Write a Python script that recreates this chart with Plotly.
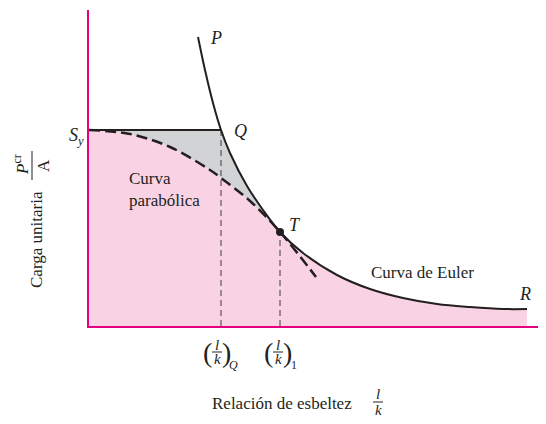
import plotly.graph_objects as go

# values (x = slenderness l/k, y = unit load Pcr/A, arbitrary units)
euler_x = [109, 116, 124, 132, 141, 158, 174, 191, 214, 248, 281, 314, 348, 381, 414, 438]
euler_y = [289, 256, 223, 196, 173, 140, 116, 94, 73, 51, 37, 28, 22, 19, 17, 17]
parab_x = [0, 41, 81, 121, 132, 161, 191, 227]
parab_y = [196, 192, 179, 156, 148, 125, 94, 49]
sy = 196
q_x = 132
t_x, t_y = 191, 94

PINK = "#f9d3e4"
GRAY = "#d1d3d4"
MAGENTA = "#e5007d"
INK = "#231f20"
FONT = "Liberation Serif"

# the page body has an 8px margin, so the figure is 8px smaller than the window
PAD = 8
W, H = 546 - PAD, 424 - PAD
ML, MB, MT = 89 - PAD, 98, 10 - PAD
PW, PH = W - ML, H - MB - MT

iq = euler_x.index(q_x)
it = euler_x.index(t_x)
ip = parab_x.index(t_x)

fig = go.Figure()

# gray band under min(Sy, Euler); the pink area covers everything below the lower envelope
fig.add_trace(go.Scatter(x=[0, q_x], y=[sy, sy], mode="lines", line=dict(width=0),
                         fill="tozeroy", fillcolor=GRAY))
fig.add_trace(go.Scatter(x=euler_x[iq:], y=euler_y[iq:], mode="lines",
                         line=dict(width=0, shape="spline"), fill="tozeroy", fillcolor=GRAY))
fig.add_trace(go.Scatter(x=parab_x[:ip + 1] + euler_x[it + 1:], y=parab_y[:ip + 1] + euler_y[it + 1:],
                         mode="lines", line=dict(width=0, shape="spline"),
                         fill="tozeroy", fillcolor=PINK))

# guide lines
fig.add_trace(go.Scatter(x=[q_x, q_x], y=[0, sy], mode="lines",
                         line=dict(color="#3a3a3a", width=1, dash="6px,4px")))
fig.add_trace(go.Scatter(x=[t_x, t_x], y=[0, t_y], mode="lines",
                         line=dict(color="#3a3a3a", width=1, dash="6px,4px")))

# curves
fig.add_trace(go.Scatter(x=[0, q_x], y=[sy, sy], mode="lines", line=dict(color=INK, width=2)))
fig.add_trace(go.Scatter(x=parab_x, y=parab_y, mode="lines",
                         line=dict(color=INK, width=2.5, dash="11px,5px", shape="spline")))
fig.add_trace(go.Scatter(x=euler_x, y=euler_y, mode="lines",
                         line=dict(color=INK, width=2, shape="spline")))
fig.add_trace(go.Scatter(x=[t_x], y=[t_y], mode="markers", marker=dict(color=INK, size=8)))


# label positions are given in window pixels
def px(x):
    return (x - PAD - ML) / PW


def py(y):
    return (H - MB - (y - PAD)) / PH


anns = []
shapes = []


def label(text, x, y, size=17, xanchor="center", **kw):
    anns.append(dict(text=text, x=px(x), y=py(y), xref="paper", yref="paper", showarrow=False,
                     xanchor=xanchor, yanchor="middle",
                     font=dict(family=FONT, size=size, color=INK), **kw))


def bar(x0, x1, y0, y1):
    shapes.append(dict(type="line", xref="paper", yref="paper", x0=px(x0), x1=px(x1),
                       y0=py(y0), y1=py(y1), line=dict(color=INK, width=1)))


label("<i>P</i>", 216, 38, 18)
label("<i>Q</i>", 240, 131, 18)
label("<i>T</i>", 295, 225, 18)
label("<i>R</i>", 525, 294, 18)
label("<i>S<sub>y</sub></i>", 76, 136, 18)
label("Curva<br>parabólica", 127, 190, 17, xanchor="left", align="left")
label("Curva de Euler", 422, 272, 17)

# tick labels (l/k)_Q and (l/k)_1
for cx, sub in [(217, "<i>Q</i>"), (278, "1")]:
    label("(", cx - 10, 352, 28)
    label(")", cx + 9, 352, 28)
    label("<i>l</i>", cx, 345, 15)
    label("<i>k</i>", cx, 359, 15)
    bar(cx - 5, cx + 5, 352, 352)
    label(sub, cx + 16, 365, 12)

# x title
label("Relación de esbeltez", 354, 403, 17, xanchor="right")
label("<i>l</i>", 378, 394, 15)
label("<i>k</i>", 378, 410, 15)
bar(373, 383, 402, 402)

# y title
label("Carga unitaria", 36, 240, 17, textangle=-90)
label("<i>P</i><sup>cr</sup>", 21, 165, 17, textangle=-90)
label("A", 43, 166, 17, textangle=-90)
bar(32, 32, 151, 180)

axis = dict(showline=True, linecolor=MAGENTA, linewidth=1.5, showgrid=False, zeroline=False,
            showticklabels=False, ticks="", fixedrange=True)
fig.update_layout(
    width=W, height=H, margin=dict(l=ML, r=0, t=MT, b=MB),
    paper_bgcolor="white", plot_bgcolor="white", showlegend=False,
    xaxis=dict(range=[0, PW], **axis), yaxis=dict(range=[0, PH], **axis),
    annotations=anns, shapes=shapes,
)

fig.write_html("out.html")
